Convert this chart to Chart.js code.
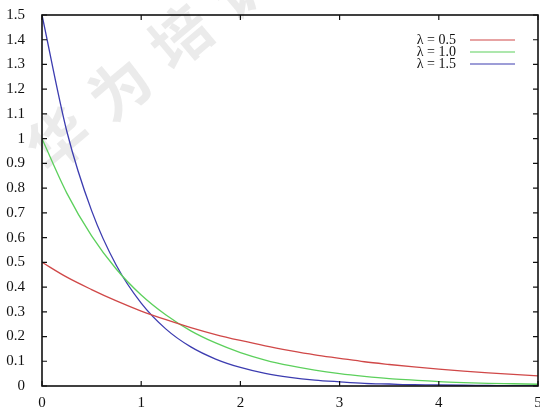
<!DOCTYPE html>
<html>
<head>
<meta charset="utf-8">
<script src="https://cdn.jsdelivr.net/npm/chart.js@4.4.1/dist/chart.umd.min.js"></script>
<style>
  html, body { margin: 0; padding: 0; background: #fff; }
  #wrap { width: 540px; height: 411px; }
</style>
</head>
<body>
<div id="wrap"><canvas id="chart"></canvas></div>
<script>
/* exponential density curves */
const xValues = [0, 0.25, 0.5, 0.75, 1, 1.25, 1.5, 1.75, 2, 2.25, 2.5, 2.75, 3, 3.25, 3.5, 3.75, 4, 4.25, 4.5, 4.75, 5];
const lambda05 = [0.50, 0.44, 0.39, 0.344, 0.303, 0.268, 0.236, 0.208, 0.184, 0.162, 0.143, 0.126, 0.112, 0.098, 0.087, 0.077, 0.068, 0.060, 0.053, 0.047, 0.041];
const lambda10 = [1.00, 0.78, 0.607, 0.472, 0.368, 0.287, 0.223, 0.174, 0.135, 0.105, 0.082, 0.064, 0.050, 0.039, 0.030, 0.024, 0.018, 0.014, 0.011, 0.009, 0.007];
const lambda15 = [1.50, 1.03, 0.709, 0.487, 0.335, 0.230, 0.158, 0.109, 0.075, 0.051, 0.035, 0.024, 0.017, 0.011, 0.008, 0.005, 0.004, 0.003, 0.002, 0.001, 0.001];
const seriesLabels = ['λ = 0.5', 'λ = 1.0', 'λ = 1.5'];
const seriesColors = ['#d04848', '#5cd05c', '#3c3cb0'];
const xTickLabels = ['0', '1', '2', '3', '4', '5'];
const yTickLabels = ['0', '0.1', '0.2', '0.3', '0.4', '0.5', '0.6', '0.7', '0.8', '0.9', '1', '1.1', '1.2', '1.3', '1.4', '1.5'];
const watermark = '华为培训';

const FONT = '"Liberation Serif", "DejaVu Serif", serif';

function toPoints(ys){ return xValues.map((x, i) => ({x, y: ys[i]})); }

/* gnuplot-like frame: border box, inward ticks on all four sides, key in top right */
const framePlugin = {
  id: 'frame',
  beforeDatasetsDraw(chart){
    const {ctx} = chart;
    ctx.save();
    ctx.fillStyle = 'rgba(175,175,175,0.25)';
    ctx.font = 'bold 60px "Noto Sans CJK SC"';
    ctx.textAlign = 'center';
    ctx.textBaseline = 'middle';
    const ang = -40 * Math.PI / 180;
    const cx = 150, cy = 62, step = 80;
    [...watermark].forEach((ch, i) => {
      const d = (i - 1.5) * step;
      ctx.save();
      ctx.translate(cx + d * Math.cos(ang), cy + d * Math.sin(ang));
      ctx.rotate(ang);
      ctx.fillText(ch, 0, 0);
      ctx.restore();
    });
    ctx.restore();
  },
  afterDraw(chart){
    const {ctx, chartArea: a, scales} = chart;
    const tl = 5;
    ctx.save();
    ctx.strokeStyle = '#111';
    ctx.lineWidth = 1.6;
    ctx.strokeRect(a.left, a.top, a.right - a.left, a.bottom - a.top);
    ctx.lineWidth = 1.2;
    ctx.beginPath();
    scales.x.ticks.forEach(t => {
      const px = scales.x.getPixelForValue(t.value);
      ctx.moveTo(px, a.bottom); ctx.lineTo(px, a.bottom - tl);
      ctx.moveTo(px, a.top); ctx.lineTo(px, a.top + tl);
    });
    scales.y.ticks.forEach(t => {
      const py = scales.y.getPixelForValue(t.value);
      ctx.moveTo(a.left, py); ctx.lineTo(a.left + tl, py);
      ctx.moveTo(a.right, py); ctx.lineTo(a.right - tl, py);
    });
    ctx.stroke();

    // key
    ctx.font = '14px ' + FONT;
    ctx.textAlign = 'right';
    ctx.textBaseline = 'middle';
    chart.data.datasets.forEach((ds, i) => {
      const y = 40 + i * 12;
      ctx.fillStyle = '#111';
      ctx.fillText(ds.label, 456, y);
      ctx.strokeStyle = ds.borderColor;
      ctx.lineWidth = 1.2;
      ctx.beginPath();
      ctx.moveTo(470, y); ctx.lineTo(515, y);
      ctx.stroke();
    });
    ctx.restore();
  }
};

const datasets = [lambda05, lambda10, lambda15].map((ys, i) => ({
  label: seriesLabels[i],
  data: toPoints(ys),
  borderColor: seriesColors[i],
  borderWidth: 1.3,
  pointRadius: 0,
  fill: false,
  cubicInterpolationMode: 'monotone'
}));

new Chart(document.getElementById('chart'), {
  type: 'line',
  data: { datasets },
  options: {
    responsive: true,
    maintainAspectRatio: false,
    animation: false,
    layout: { padding: { top: 15, right: 2, left: 0, bottom: 0 } },
    plugins: { legend: { display: false }, tooltip: { enabled: false } },
    scales: {
      x: {
        type: 'linear', min: 0, max: 5,
        grid: { display: false }, border: { display: false },
        afterBuildTicks: s => { s.ticks = xTickLabels.map(v => ({ value: Number(v) })); },
        afterFit: s => { s.height = 25; s.paddingLeft = 0; s.paddingRight = 0; },
        ticks: {
          padding: 0, color: '#111',
          font: { family: FONT, size: 15 },
          callback: (v, i) => xTickLabels[i]
        }
      },
      y: {
        type: 'linear', min: 0, max: 1.5,
        grid: { display: false }, border: { display: false },
        afterBuildTicks: s => { s.ticks = yTickLabels.map(v => ({ value: Number(v) })); },
        afterFit: s => { s.width = 42; s.paddingTop = 0; s.paddingBottom = 0; },
        ticks: {
          padding: 9, color: '#111',
          font: { family: FONT, size: 15 },
          callback: (v, i) => yTickLabels[i]
        }
      }
    }
  },
  plugins: [framePlugin]
});
</script>
</body>
</html>
